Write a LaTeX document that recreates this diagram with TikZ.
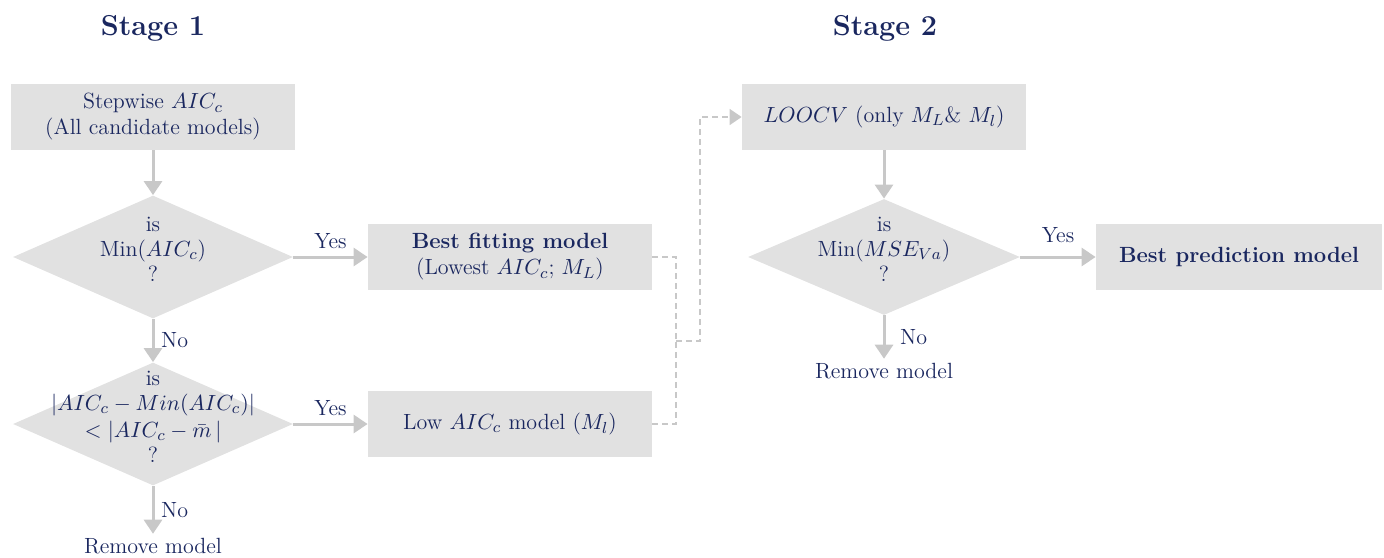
\documentclass[tikz,border=0pt]{standalone}
\usetikzlibrary{shapes.geometric,arrows.meta}
\definecolor{navytext}{HTML}{1A275F}
\definecolor{boxgray}{HTML}{E1E1E1}
\definecolor{arrowgray}{HTML}{C8C8C8}
\newcommand{\dtext}[1]{\makebox[0pt]{\smash{\fontsize{11}{12.5}\selectfont\begin{tabular}{@{}c@{}}#1\end{tabular}}}}
\tikzset{
    stepbox/.style={rectangle, fill=boxgray, minimum width=142pt, minimum height=33pt, inner sep=0pt, align=center},
    decision/.style={diamond, fill=boxgray, minimum width=140pt, minimum height=61.5pt, inner sep=0pt},
    flow/.style={-{Triangle[width=9pt,length=7pt]}, line width=1.5pt, draw=arrowgray},
    link/.style={line width=0.8pt, draw=arrowgray, dash pattern=on 3pt off 2pt},
    title/.style={font=\Large\bfseries},
    endnote/.style={inner sep=2pt}
}
\begin{document}
\begin{tikzpicture}[x=0.5pt, y=-0.5pt, text=navytext, font=\fontsize{11}{13}\selectfont]
        \useasboundingbox (0,0) rectangle (1384,557);

        \node[title] (stageone) at (153,28) {Stage 1};
        \node[title] (stagetwo) at (885,28) {Stage 2};

        \node[stepbox] (stepwise) at (153,117) {Stepwise $AIC_c$\\(All candidate models)};
        \node[decision] (mincheck) at (153,257) {\dtext{is\\Min($AIC_c$)\\?}};
        \node[stepbox] (bestfit) at (510,257) {\textbf{Best fitting model}\\(Lowest $AIC_c$; $M_L$)};
        \node[decision] (lowcheck) at (153,424) {\dtext{is\\$|AIC_c-Min(AIC_c)|$\\[1pt]$<|AIC_c-\bar{m}\,|$\\?}};
        \node[stepbox] (lowaic) at (510,424) {Low $AIC_c$ model ($M_l$)};
        \node[endnote] (removeone) at (153,546) {Remove model};

        \node[stepbox] (loocv) at (884,117) {$LOOCV$ (only $M_L$\& $M_l$)};
        \node[decision, minimum width=136pt, minimum height=58pt] (msecheck) at (884,257) {\dtext{is\\Min($MSE_{Va}$)\\?}};
        \node[stepbox, minimum width=143pt] (bestpred) at (1239,257) {\textbf{Best prediction model}};
        \node[endnote] (removetwo) at (884,371) {Remove model};

        \coordinate (merge) at (676,341);
        \coordinate (riser) at (700,341);

        \draw[flow] (stepwise.south) -- (mincheck.north);
        \draw[flow] (mincheck.east) -- node[above] {Yes} (bestfit.west);
        \draw[flow] (mincheck.south) -- node[right] {No} (lowcheck.north);
        \draw[flow] (lowcheck.east) -- node[above] {Yes} (lowaic.west);
        \draw[flow] (lowcheck.south) -- node[right] {No} (removeone.north);

        \draw[link] (bestfit.east) -| (merge);
        \draw[link] (lowaic.east) -| (merge);
        \draw[link, -{Triangle[width=8pt,length=6pt]}] (merge) -- (riser) |- (loocv.west);

        \draw[flow] (loocv.south) -- (msecheck.north);
        \draw[flow] (msecheck.east) -- node[above=3pt] {Yes} (bestpred.west);
        \draw[flow] (msecheck.south) -- node[right, xshift=4pt] {No} (removetwo.north);
    \end{tikzpicture}
\end{document}
